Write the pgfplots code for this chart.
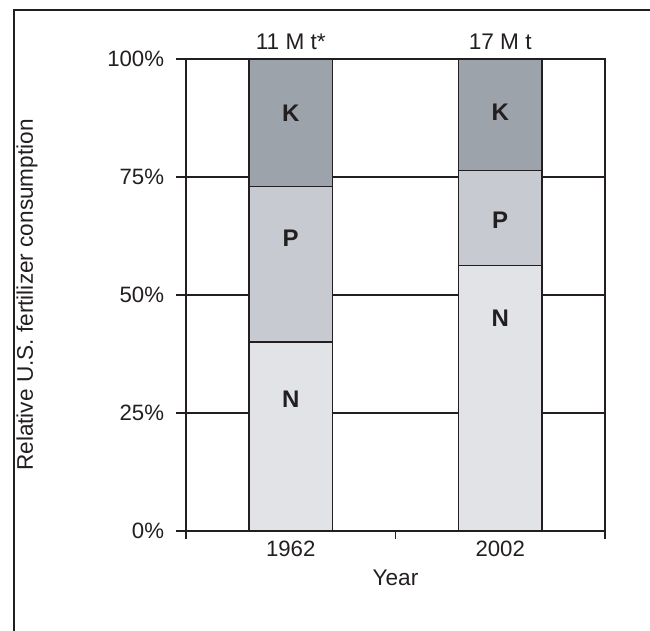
\documentclass[border=0pt]{standalone}
\usepackage{pgfplots}
\pgfplotsset{compat=1.18}
\usepackage{fontspec}
\setmainfont{Liberation Sans}
\definecolor{cK}{HTML}{9DA3AA}
\definecolor{cP}{HTML}{C8CAD1}
\definecolor{cN}{HTML}{E2E3E7}
\definecolor{edge}{HTML}{231F20}
\begin{document}
\fontsize{11.3}{13.5}\selectfont
\begin{tikzpicture}
\useasboundingbox (0,0) rectangle (325pt,315.5pt);
\draw[edge, line width=0.7pt] (7pt,0) -- (7pt,310.5pt) -- (325pt,310.5pt);
\begin{axis}[
  at={(93pt,50pt)}, anchor=south west,
  scale only axis, width=209.5pt, height=236pt,
  xmin=0, xmax=2, ymin=0, ymax=100,
  ybar stacked, bar width=0.4, reverse stacked plots=false,
  xtick={0.5,1.5}, xticklabels={1962,2002},
  minor xtick={0,1,2},
  major x tick style={draw=none},
  minor tick length=4pt,
  ytick={0,25,50,75,100},
  yticklabels={0\%,25\%,50\%,75\%,100\%},
  major tick length=5pt,
  tick align=outside,
  xtick pos=bottom, ytick pos=left,
  ymajorgrids,
  grid style={edge, line width=0.6pt},
  axis line style={edge, line width=0.7pt},
  every tick/.style={edge, line width=0.6pt},
  /pgf/number format/assume math mode=true,
  ticklabel style={font=\fontsize{11.1}{13.5}\selectfont, text=edge},
  xticklabel style={yshift=4pt},
  yticklabel style={xshift=-2pt},
  xlabel={Year}, ylabel={Relative U.S. fertilizer consumption},
  label style={font=\fontsize{11.3}{13.5}\selectfont, text=edge},
  xlabel style={at={(axis description cs:0.5,-0.0996)}, anchor=center},
  ylabel style={at={(axis description cs:-0.3795,0.5)}, anchor=center},
  clip=false,
]
\addplot[fill=cN, draw=edge, line width=0.7pt] coordinates {(0.5,40.0) (1.5,56.3)};
\addplot[fill=cP, draw=edge, line width=0.7pt] coordinates {(0.5,33.0) (1.5,20.1)};
\addplot[fill=cK, draw=edge, line width=0.7pt] coordinates {(0.5,27.0) (1.5,23.6)};
\node[font=\fontsize{12}{14}\selectfont\bfseries, text=edge] at (axis cs:0.5,88.5) {K};
\node[font=\fontsize{12}{14}\selectfont\bfseries, text=edge] at (axis cs:0.5,62) {P};
\node[font=\fontsize{12}{14}\selectfont\bfseries, text=edge] at (axis cs:0.5,28) {N};
\node[font=\fontsize{12}{14}\selectfont\bfseries, text=edge] at (axis cs:1.5,88.7) {K};
\node[font=\fontsize{12}{14}\selectfont\bfseries, text=edge] at (axis cs:1.5,65.8) {P};
\node[font=\fontsize{12}{14}\selectfont\bfseries, text=edge] at (axis cs:1.5,45) {N};
\node[anchor=base, text=edge] at (axis cs:0.5,102.0) {11 M t*};
\node[anchor=base, text=edge] at (axis cs:1.5,102.0) {17 M t};
\end{axis}
\end{tikzpicture}
\end{document}
